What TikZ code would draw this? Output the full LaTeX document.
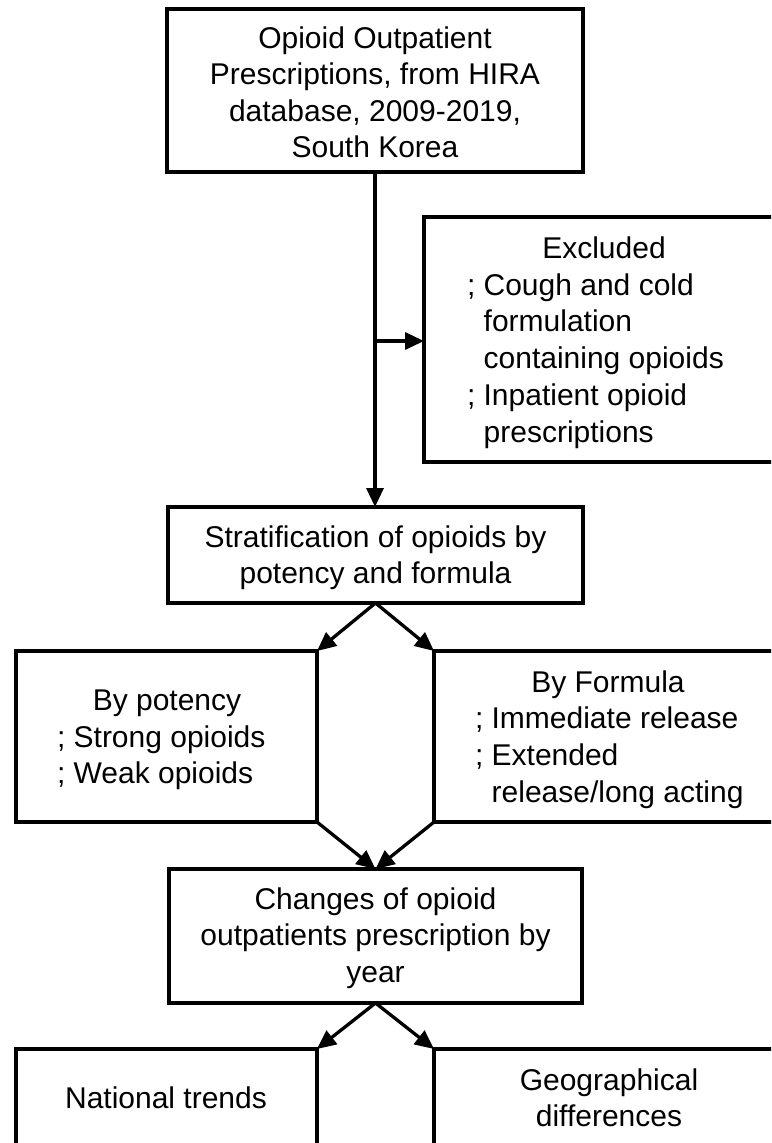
\documentclass[tikz,border=0pt]{standalone}
\usepackage{fontspec}
\setmainfont{Liberation Sans}
\usetikzlibrary{arrows.meta}
\tikzset{
  boxnode/.style={draw=black, line width=3.3pt, rectangle, inner sep=0pt, outer sep=0pt},
  arr/.style={draw=black, line width=3.3pt, -{Triangle[length=19pt,width=17pt]}},
  txt/.style={inner sep=0pt, outer sep=0pt, font=\fontsize{30}{36.8}\selectfont},
}
\begin{document}
\begin{tikzpicture}[x=1pt,y=-1pt]
\useasboundingbox (0,0) rectangle (771,1143);
\clip (0,0) rectangle (771,1143);
\fill[white] (0,0) rectangle (771,1143);

% boxes
\node[boxnode, minimum width=416pt, minimum height=163pt] (top) at (375,90.5) {};
\node[boxnode, minimum width=361pt, minimum height=245pt] (excl) at (604.5,339.5) {};
\node[boxnode, minimum width=415pt, minimum height=96pt] (strat) at (375.5,555) {};
\node[boxnode, minimum width=301pt, minimum height=171pt] (pot) at (166.5,736.5) {};
\node[boxnode, minimum width=351pt, minimum height=171pt] (form) at (609.5,736.5) {};
\node[boxnode, minimum width=413pt, minimum height=134pt] (chg) at (375.5,936) {};
\node[boxnode, minimum width=301pt, minimum height=101pt] (nat) at (166.5,1099.5) {};
\node[boxnode, minimum width=351pt, minimum height=101pt] (geo) at (609.5,1099.5) {};

% texts
\node[txt, anchor=base] (ttop) at (375,48) {\fontsize{30}{36.5}\selectfont\begin{tabular}[t]{@{}c@{}}Opioid Outpatient\\Prescriptions, from HIRA\\database, 2009-2019,\\South Korea\end{tabular}};
\node[txt, anchor=base] (texh) at (604,258) {Excluded};
\node[txt, anchor=base west] (texl) at (467,295) {\begin{tabular}[t]{@{}l@{}}; Cough and cold\\\phantom{;\ }formulation\\\phantom{;\ }containing opioids\\; Inpatient opioid\\\phantom{;\ }prescriptions\end{tabular}};
\node[txt, anchor=base] (tstrat) at (375.5,547) {\begin{tabular}[t]{@{}c@{}}Stratification of opioids by\\potency and formula\end{tabular}};
\node[txt, anchor=base] (tpoth) at (167,710) {By potency};
\node[txt, anchor=base west] (tpotl) at (57,747) {\begin{tabular}[t]{@{}l@{}}; Strong opioids\\; Weak opioids\end{tabular}};
\node[txt, anchor=base] (tformh) at (608,692) {By Formula};
\node[txt, anchor=base west] (tforml) at (475,728.5) {\begin{tabular}[t]{@{}l@{}}; Immediate release\\; Extended\\\phantom{;\ }release/long acting\end{tabular}};
\node[txt, anchor=base] (tchg) at (375.5,909) {\begin{tabular}[t]{@{}c@{}}Changes of opioid\\outpatients prescription by\\year\end{tabular}};
\node[txt, anchor=base] (tnat) at (166,1108) {National trends};
\node[txt, anchor=base] (tgeo) at (609,1090) {\begin{tabular}[t]{@{}c@{}}Geographical\\differences\end{tabular}};

% connectors
\coordinate (j) at (375,341);
\draw[arr] (top.south) -- (top.south |- strat.north);
\draw[arr] (j) -- (j -| excl.west);
\draw[arr] (strat.south) -- (pot.north east);
\draw[arr] (strat.south) -- (form.north west);
\draw[arr] (pot.south east) -- (chg.north);
\draw[arr] (form.south west) -- (chg.north);
\draw[arr] (chg.south) -- (nat.north east);
\draw[arr] (chg.south) -- (geo.north west);
\end{tikzpicture}
\end{document}
